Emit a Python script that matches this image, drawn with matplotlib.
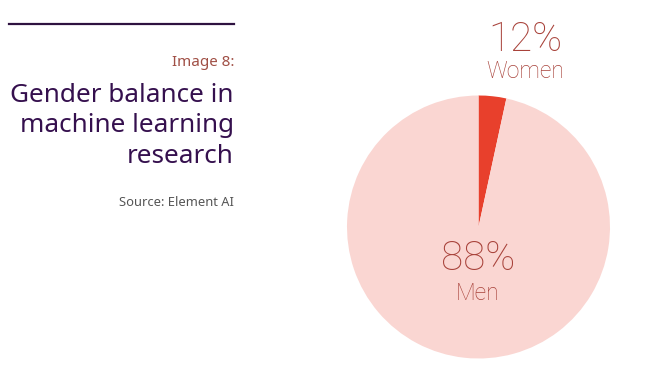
import matplotlib.pyplot as plt

# values as drawn in the picture (wedge) and the labels printed on it
groups = ["Women", "Men"]
wedge_sizes = [3.4, 96.6]
share_labels = ["12%", "88%"]
colors = ["#e8402c", "#fad6d2"]

W, H = 658, 383
fig = plt.figure(figsize=(W / 100, H / 100), dpi=100)
fig.patch.set_facecolor("white")

def fx(x):
    return x / W

def fy(y):
    return 1 - y / H

# pie, center about (478.5, 227) px, radius about 131.5 px
r = 131.5
ax = fig.add_axes([fx(478.5 - r), fy(227 + r), 2 * r / W, 2 * r / H])
ax.pie(wedge_sizes, colors=colors, startangle=90, counterclock=False,
       radius=1, wedgeprops=dict(linewidth=0))
ax.set_xlim(-1, 1)
ax.set_ylim(-1, 1)
ax.set_aspect("auto")
ax.axis("off")

lab_col = "#a8423a"
lab_font = dict(family="Roboto", fontweight="light", color=lab_col,
                ha="center", va="center")
fig.text(fx(525), fy(40), share_labels[0], fontsize=29, **lab_font)
fig.text(fx(525), fy(72), groups[0], fontsize=16.5, **lab_font)
fig.text(fx(478), fy(259), share_labels[1], fontsize=29, **lab_font)
fig.text(fx(478), fy(293), groups[1], fontsize=16.5, **lab_font)

# left side header
fig.add_artist(plt.Line2D([fx(9), fx(234)], [fy(24), fy(24)],
                          color="#2e1240", linewidth=1.6))
fig.text(fx(234), fy(62), "Image 8:", ha="right", va="center",
         fontsize=10.9, color="#a04f45", family="Noto Sans")
title_lines = ["Gender balance in", "machine learning", "research"]
for i, line in enumerate(title_lines):
    fig.text(fx(234), fy(95 + 31 * i), line, ha="right", va="center",
             fontsize=18.8, color="#35104e", family="Noto Sans")
fig.text(fx(234), fy(203), "Source: Element AI", ha="right", va="center",
         fontsize=9.3, color="#555555", family="Noto Sans")

fig.savefig("out.png", dpi=100)
